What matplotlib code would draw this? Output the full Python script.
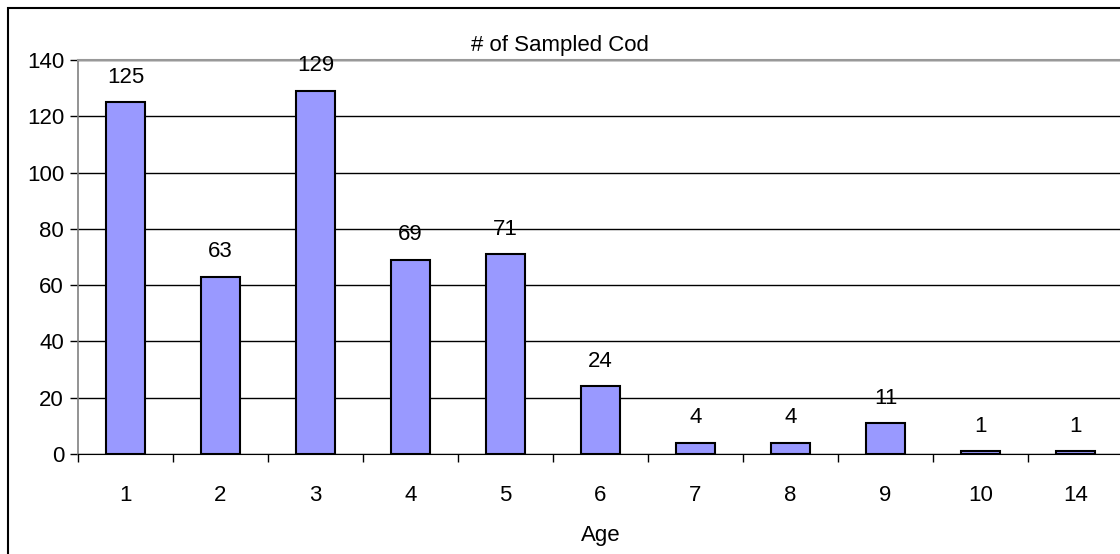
import matplotlib
matplotlib.use("Agg")
from matplotlib import pyplot as plt
from matplotlib.patches import Rectangle
import numpy as np

ages = ["1", "2", "3", "4", "5", "6", "7", "8", "9", "10", "14"]
counts = [125, 63, 129, 69, 71, 24, 4, 4, 11, 1, 1]
yticks = [0, 20, 40, 60, 80, 100, 120, 140]

plt.rcParams['font.family'] = ['Liberation Sans', 'DejaVu Sans']
fs = 16

fig = plt.figure(figsize=(11.2, 5.54), dpi=100)
# outer chart border (right and bottom fall off the picture)
fig.patches.append(Rectangle((8 / 1120, -0.1), 1.2, 1 - 8 / 554 + 0.1,
                             transform=fig.transFigure, fill=False,
                             edgecolor='black', linewidth=1.5))

ax = fig.add_axes([78 / 1120, 1 - 454 / 554, 1045 / 1120, 394 / 554])
x = np.arange(len(ages))
ax.bar(x, counts, width=0.41, color='#9999FF', edgecolor='black',
       linewidth=1.5, zorder=3)

for xi, c in zip(x, counts):
    ax.annotate(str(c), (xi, c), xytext=(0, 18), textcoords='offset points',
                ha='center', va='center', fontsize=fs, zorder=4)

ax.set_xlim(-0.5, len(ages) - 0.5)
ax.set_ylim(0, 140)
ax.set_yticks(yticks)
ax.set_xticks(x)
ax.set_xticklabels(ages)
ax.set_xticks(np.arange(len(ages) + 1) - 0.5, minor=True)
ax.tick_params(axis='x', which='major', length=0, pad=22, labelsize=fs)
ax.tick_params(axis='x', which='minor', length=6, width=1, direction='out')
ax.tick_params(axis='y', length=6, width=1, pad=4, labelsize=fs)
ax.yaxis.grid(True, color='black', linewidth=1, zorder=0)
ax.set_axisbelow(True)

ax.spines['right'].set_visible(False)
ax.spines['top'].set_color('#999999')
ax.spines['top'].set_linewidth(1.5)
ax.spines['left'].set_color('#808080')
ax.spines['left'].set_linewidth(1.2)
ax.spines['bottom'].set_color('black')

ax.set_xlabel("Age", fontsize=fs, labelpad=14)
fig.text(560 / 1120, 1 - 45 / 554, "# of Sampled Cod", ha='center',
         va='center', fontsize=fs)

plt.savefig("out.png", dpi=100)
